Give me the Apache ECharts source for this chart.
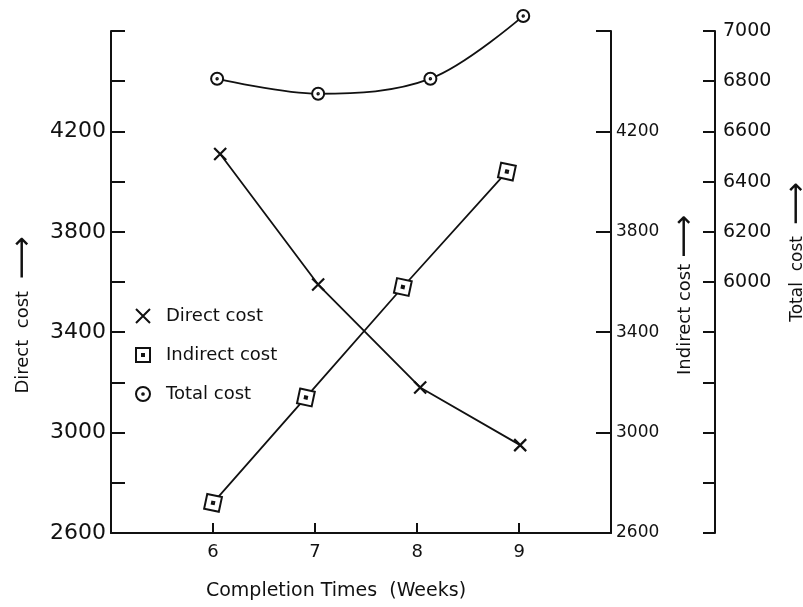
<!DOCTYPE html>
<html>
<head>
<meta charset="utf-8">
<script src="https://cdn.jsdelivr.net/npm/echarts@6/dist/echarts.min.js"></script>
<style>html,body{margin:0;padding:0;background:#fff}#c{width:803px;height:607px}</style>
</head>
<body>
<div id="c"></div>
<script>
// ---- data ----
const weekTicks = [6, 7, 8, 9];
const directWeeks = [6.07, 7.03, 8.03, 9.01];
const directCost = [4110, 3590, 3180, 2950];
const indirectWeeks = [6.0, 6.91, 7.86, 8.88];
const indirectCost = [2720, 3140, 3580, 4040];
const totalWeeks = [6.04, 7.03, 8.13, 9.04];
const totalCost = [6810, 6750, 6810, 7060];
const leftLabels = [2600, 3000, 3400, 3800, 4200];
const midTicks = [2600, 3000, 3400, 3800, 4200, 4600];
const midLabels = [2600, 3000, 3400, 3800, 4200];
const totalLabels = [6000, 6200, 6400, 6600, 6800, 7000];

const INK = '#111';
const FONT = 'DejaVu Sans';
const crossIcon = 'path://M0,0L10,10M10,0L0,10';
const squareIcon = 'path://M0,0H10V10H0Z M4.3,4.3H5.7V5.7H4.3Z';
const circleIcon = 'path://M0,5a5,5 0 1,0 10,0a5,5 0 1,0 -10,0Z M4.4,5a0.6,0.6 0 1,0 1.2,0a0.6,0.6 0 1,0 -1.2,0Z';

const pairs = (xs, ys) => xs.map((x, i) => [x, ys[i]]);
const plain = v => String(v);
const mk = { color: '#fff', borderColor: INK, borderWidth: 2 };
const arrowRich = { arr: { fontFamily: FONT, fontSize: 30, color: INK } };

const chart = echarts.init(document.getElementById('c'), null, { renderer: 'canvas' });
chart.setOption({
  backgroundColor: '#fff',
  animation: false,
  textStyle: { fontFamily: FONT, color: INK },
  grid: { left: 111, right: 192, top: 31, bottom: 74, containLabel: false, outerBoundsMode: 'none' },
  legend: {
    orient: 'vertical',
    left: 130, top: 302,
    itemWidth: 36, itemHeight: 14, itemGap: 21,
    textStyle: { fontFamily: FONT, fontSize: 18, color: INK },
    data: [
      { name: 'Direct cost', icon: crossIcon, itemStyle: { color: INK, borderColor: INK, borderWidth: 2 } },
      { name: 'Indirect cost', icon: squareIcon, itemStyle: mk },
      { name: 'Total cost', icon: circleIcon, itemStyle: mk }
    ]
  },
  xAxis: {
    type: 'value', min: 5, max: 9.9, interval: 1,
    name: 'Completion Times  (Weeks)', nameLocation: 'middle', nameGap: 49,
    nameTextStyle: { fontFamily: FONT, fontSize: 19, color: INK, padding: [0, 50, 0, 0] },
    axisLine: { show: true, lineStyle: { color: INK, width: 2 } },
    axisTick: { show: true, inside: true, length: 10, customValues: weekTicks, lineStyle: { color: INK, width: 2 } },
    axisLabel: { customValues: weekTicks, formatter: plain, margin: 10, fontFamily: FONT, fontSize: 18, color: INK },
    splitLine: { show: false }
  },
  yAxis: [
    {
      type: 'value', position: 'left', min: 2600, max: 4600, interval: 200,
      name: 'Direct  cost  {arr|⟶}', nameLocation: 'middle', nameGap: 73,
      nameTextStyle: { fontFamily: FONT, fontSize: 18, color: INK, padding: [0, 66, 0, 0], rich: arrowRich },
      axisLine: { show: true, lineStyle: { color: INK, width: 2 } },
      axisTick: { show: true, inside: true, length: 14, lineStyle: { color: INK, width: 2 } },
      axisLabel: { customValues: leftLabels, formatter: plain, margin: 5, fontFamily: FONT, fontSize: 22, color: INK },
      splitLine: { show: false }
    },
    {
      type: 'value', position: 'right', offset: 0, min: 2600, max: 4600, interval: 200,
      name: 'Indirect cost {arr|⟶}', nameLocation: 'middle', nameGap: 51,
      nameTextStyle: { fontFamily: FONT, fontSize: 18, color: INK, padding: [0, 26, 0, 0], rich: arrowRich },
      axisLine: { show: true, lineStyle: { color: INK, width: 2 } },
      axisTick: { show: true, inside: true, length: 15, customValues: midTicks, lineStyle: { color: INK, width: 2 } },
      axisLabel: { customValues: midLabels, formatter: plain, margin: 5, fontFamily: FONT, fontSize: 17, color: INK },
      splitLine: { show: false }
    },
    {
      type: 'value', position: 'right', offset: 104, min: 5000, max: 7000, interval: 200,
      name: 'Total  cost  {arr|⟶}', nameLocation: 'middle', nameGap: 60,
      nameTextStyle: { fontFamily: FONT, fontSize: 17, color: INK, padding: [0, 0, 0, 60], rich: arrowRich },
      axisLine: { show: true, lineStyle: { color: INK, width: 2 } },
      axisTick: { show: true, inside: true, length: 12, lineStyle: { color: INK, width: 2 } },
      axisLabel: { customValues: totalLabels, formatter: plain, margin: 8, fontFamily: FONT, fontSize: 19, color: INK },
      splitLine: { show: false }
    }
  ],
  series: [
    {
      name: 'Direct cost', type: 'line', yAxisIndex: 0, clip: false,
      data: pairs(directWeeks, directCost),
      symbol: crossIcon, symbolSize: 12, symbolKeepAspect: true,
      lineStyle: { color: INK, width: 1.8 },
      itemStyle: { color: INK, borderColor: INK, borderWidth: 2.2 }
    },
    {
      name: 'Indirect cost', type: 'line', yAxisIndex: 1, clip: false,
      data: pairs(indirectWeeks, indirectCost),
      symbol: squareIcon, symbolSize: 15, symbolRotate: -12, symbolKeepAspect: true,
      lineStyle: { color: INK, width: 1.8 },
      itemStyle: mk
    },
    {
      name: 'Total cost', type: 'line', yAxisIndex: 2, clip: false, smooth: 0.35,
      data: pairs(totalWeeks, totalCost),
      symbol: circleIcon, symbolSize: 12, symbolKeepAspect: true,
      lineStyle: { color: INK, width: 1.8 },
      itemStyle: mk
    }
  ]
});
</script>
</body>
</html>
